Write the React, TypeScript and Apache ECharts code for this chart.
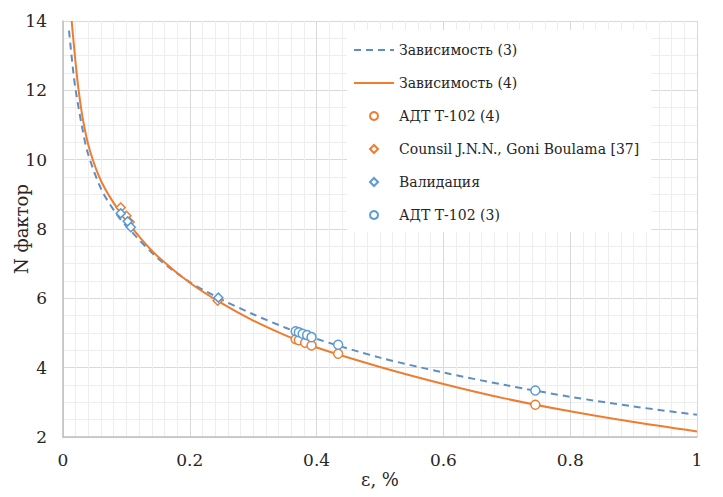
import React, { useEffect, useRef } from "react";
import * as echarts from "echarts";

// Curve readings (ε, N)
const curve3: number[][] = [
  [0.0095, 13.72], [0.0164, 12.5], [0.02, 12.0], [0.0295, 11.0], [0.039, 10.2],
  [0.061, 9.12], [0.0848, 8.42], [0.1, 8.08], [0.15, 7.15], [0.2, 6.47],
  [0.25, 5.97], [0.3, 5.54], [0.35, 5.16], [0.4, 4.83], [0.5, 4.29],
  [0.6, 3.86], [0.7, 3.49], [0.8, 3.16], [0.9, 2.88], [1.0, 2.64],
];
const curve4: number[][] = [
  [0.0137, 14.0], [0.019, 12.95], [0.0243, 12.05], [0.032, 11.1], [0.0426, 10.25],
  [0.061, 9.35], [0.0874, 8.55], [0.1216, 7.75], [0.15, 7.2], [0.2, 6.45],
  [0.25, 5.86], [0.3, 5.36], [0.35, 4.94], [0.4, 4.58], [0.5, 4.02],
  [0.6, 3.53], [0.7, 3.1], [0.8, 2.74], [0.9, 2.43], [1.0, 2.16],
];
const adt4: number[][] = [
  [0.367, 4.82], [0.372, 4.79], [0.382, 4.72], [0.392, 4.64], [0.434, 4.4], [0.745, 2.93],
];
const counsil: number[][] = [
  [0.091, 8.62], [0.1, 8.38], [0.105, 8.2], [0.244, 5.93],
];
const validation: number[][] = [
  [0.091, 8.45], [0.102, 8.22], [0.107, 8.05], [0.245, 6.02],
];
const adt3: number[][] = [
  [0.367, 5.05], [0.372, 5.02], [0.378, 4.98], [0.385, 4.94], [0.392, 4.88], [0.434, 4.66], [0.745, 3.34],
];

const names = [
  "Зависимость (3)",
  "Зависимость (4)",
  "АДТ Т-102 (4)",
  "Counsil J.N.N., Goni Boulama [37]",
  "Валидация",
  "АДТ Т-102 (3)",
];

const ORANGE = "#ED7D31";
const BLUE = "#5B9BD5";
const DASHBLUE = "#5f8fc0";
const FONT = "DejaVu Serif";
const TXT = "#262626";
const DIAMOND = "path://M5,0L10,5L5,10L0,5Z";

export default function App() {
  const ref = useRef<HTMLDivElement>(null);
  useEffect(() => {
    if (!ref.current) return;
    const chart = echarts.init(ref.current, undefined, { renderer: "svg" });
    const hollow = (c: string) => ({ color: "#ffffff", borderColor: c, borderWidth: 1.5, opacity: 1 });
    chart.setOption({
      animation: false,
      backgroundColor: "#ffffff",
      textStyle: { fontFamily: FONT },
      grid: { left: 63, right: 26, top: 21, bottom: 60, outerBoundsMode: "none", containLabel: false },
      xAxis: {
        type: "value",
        min: 0,
        max: 1,
        interval: 0.2,
        name: "ε, %",
        nameLocation: "middle",
        nameGap: 33,
        nameMoveOverlap: false,
        nameTextStyle: { fontFamily: FONT, fontSize: 18, color: TXT },
        axisLine: { show: true, lineStyle: { color: "#bfbfbf", width: 1.5 } },
        axisTick: { show: false },
        axisLabel: { fontFamily: FONT, fontSize: 17, color: TXT, margin: 14 },
        splitLine: { show: true, lineStyle: { color: "#d9d9d9", width: 1 } },
        minorTick: { show: false, splitNumber: 10 },
        minorSplitLine: { show: true, lineStyle: { color: "#eeeeee", width: 1 } },
      },
      yAxis: {
        type: "value",
        min: 2,
        max: 14,
        interval: 2,
        name: "N фактор",
        nameLocation: "middle",
        nameGap: 33,
        nameMoveOverlap: false,
        nameTextStyle: { fontFamily: FONT, fontSize: 18, color: TXT },
        axisLine: { show: true, lineStyle: { color: "#bfbfbf", width: 1.5 } },
        axisTick: { show: false },
        axisLabel: { fontFamily: FONT, fontSize: 17, color: TXT, margin: 16 },
        splitLine: { show: true, lineStyle: { color: "#d9d9d9", width: 1 } },
        minorTick: { show: false, splitNumber: 4 },
        minorSplitLine: { show: true, lineStyle: { color: "#eeeeee", width: 1 } },
      },
      legend: {
        orient: "vertical",
        left: 347,
        top: 30,
        backgroundColor: "#ffffff",
        padding: [11, 12, 8, 6],
        itemWidth: 40,
        itemHeight: 8,
        itemGap: 15,
        symbolKeepAspect: true,
        textStyle: { fontFamily: FONT, fontSize: 14, color: TXT, lineHeight: 18 },
        data: [
          { name: names[0], itemStyle: { opacity: 0 } },
          { name: names[1], itemStyle: { opacity: 0 } },
          names[2],
          { name: names[3], icon: DIAMOND },
          { name: names[4], icon: DIAMOND },
          names[5],
        ],
      },
      series: [
        {
          name: names[0],
          type: "line",
          data: curve3,
          smooth: 0.3,
          symbol: "none",
          lineStyle: { color: DASHBLUE, width: 2, type: [7, 5] },
          itemStyle: { color: DASHBLUE },
          z: 3,
        },
        {
          name: names[1],
          type: "line",
          data: curve4,
          smooth: 0.3,
          symbol: "none",
          lineStyle: { color: ORANGE, width: 2 },
          itemStyle: { color: ORANGE },
          z: 3,
        },
        {
          name: names[2],
          type: "scatter",
          data: adt4,
          symbol: "circle",
          symbolSize: 9,
          itemStyle: hollow(ORANGE),
          z: 4,
        },
        {
          name: names[3],
          type: "scatter",
          data: counsil,
          symbol: "diamond",
          symbolSize: 9,
          itemStyle: hollow(ORANGE),
          z: 4,
        },
        {
          name: names[4],
          type: "scatter",
          data: validation,
          symbol: "diamond",
          symbolSize: 9,
          itemStyle: hollow(BLUE),
          z: 4,
        },
        {
          name: names[5],
          type: "scatter",
          data: adt3,
          symbol: "circle",
          symbolSize: 9,
          itemStyle: hollow(BLUE),
          z: 4,
        },
      ],
    });
    return () => chart.dispose();
  }, []);
  return (
    <div
      ref={ref}
      style={{ position: "fixed", left: 0, top: 0, width: 723, height: 497, background: "#fff" }}
    />
  );
}
